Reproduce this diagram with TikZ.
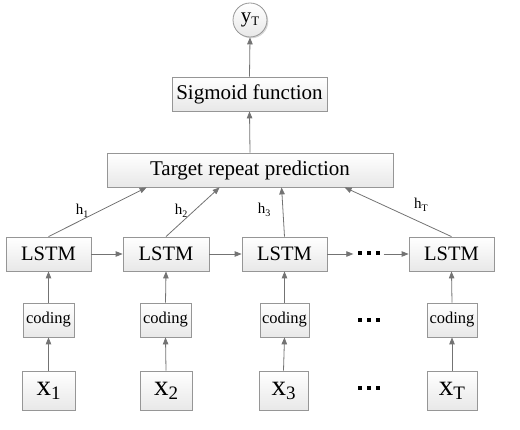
\documentclass[tikz,border=0pt]{standalone}
\usepackage{fontspec}
\setmainfont{Liberation Serif}
\usetikzlibrary{arrows.meta,shadows,calc}
\definecolor{edgegray}{RGB}{150,150,150}
\definecolor{linegray}{RGB}{115,115,115}
\tikzset{
  box/.style={draw=edgegray, line width=0.8pt, top color=white, bottom color=black!9,
    drop shadow={shadow xshift=1.3pt, shadow yshift=-1.3pt, fill=black!35, opacity=0.45},
    inner sep=0pt, minimum height=34pt},
  arr/.style={draw=linegray, line width=0.8pt, -{Triangle[length=7pt,width=5.5pt]}},
  hlab/.style={font=\fontsize{15}{15}\selectfont, inner sep=0pt},
  dotsnode/.style={inner xsep=4pt, inner ysep=2pt},
}
\newcommand{\bigsub}[2]{{\fontsize{29}{29}\selectfont #1}{\fontsize{19}{19}\selectfont\raisebox{-4pt}{#2}}}
\newcommand{\hsub}[2]{#1{\fontsize{10}{10}\selectfont\raisebox{-2.5pt}{#2}}}
\newcommand{\threedots}{\rule{4pt}{4pt}\hspace{5pt}\rule{4pt}{4pt}\hspace{5pt}\rule{4pt}{4pt}}
\begin{document}
\begin{tikzpicture}[x=1pt,y=-1pt]
\useasboundingbox (0,0) rectangle (520,430);
% output
\node[box, circle, minimum size=34pt] (yT) at (250,20) {{\fontsize{21}{21}\selectfont y}{\fontsize{13}{13}\selectfont\raisebox{-3pt}{T}}};
\node[box, minimum width=155pt, font=\fontsize{21}{21}\selectfont] (sig) at (249.5,94) {Sigmoid function};
\node[box, minimum width=286pt, font=\fontsize{21}{21}\selectfont] (tgt) at (250,170) {Target repeat prediction};
% LSTM row
\node[box, minimum width=85pt, font=\fontsize{20.5}{20.5}\selectfont] (L1) at (48.5,254) {LSTM};
\node[box, minimum width=86pt, font=\fontsize{20.5}{20.5}\selectfont] (L2) at (166,254) {LSTM};
\node[box, minimum width=85pt, font=\fontsize{20.5}{20.5}\selectfont] (L3) at (284.5,254) {LSTM};
\node[dotsnode] (d1) at (368.5,253) {\threedots};
\node[box, minimum width=85pt, font=\fontsize{20.5}{20.5}\selectfont] (L4) at (451.5,254) {LSTM};
% coding row
\node[box, minimum width=51pt, font=\fontsize{16.5}{16.5}\selectfont] (C1) at (48.5,320) {coding};
\node[box, minimum width=51pt, font=\fontsize{16.5}{16.5}\selectfont] (C2) at (165.5,320) {coding};
\node[box, minimum width=49pt, font=\fontsize{16.5}{16.5}\selectfont] (C3) at (284.5,320) {coding};
\node[dotsnode] (d2) at (368.5,320) {\threedots};
\node[box, minimum width=50pt, font=\fontsize{16.5}{16.5}\selectfont] (C4) at (452,320) {coding};
% input row
\node[box, minimum width=53pt, minimum height=39pt] (X1) at (48.5,390.5) {\bigsub{x}{1}};
\node[box, minimum width=52pt, minimum height=39pt] (X2) at (166,390.5) {\bigsub{x}{2}};
\node[box, minimum width=49pt, minimum height=39pt] (X3) at (283.5,390.5) {\bigsub{x}{3}};
\node[dotsnode] (d3) at (368.5,388) {\threedots};
\node[box, minimum width=50pt, minimum height=39pt] (X4) at (452,390.5) {\bigsub{x}{T}};
% labels
\node[hlab] (h1) at (82,211) {\hsub{h}{1}};
\node[hlab] (h2) at (181,211) {\hsub{h}{2}};
\node[hlab] (h3) at (264,210) {\hsub{h}{3}};
\node[hlab] (hT) at (421,205) {\hsub{h}{T}};
% connectors
\draw[arr] (sig.north) -- (yT.south);
\draw[arr] (tgt.north) -- (sig.south);
\draw[arr] (L1.north) -- ($(tgt.south west)+(40,0)$);
\draw[arr] (L2.north) -- ($(tgt.south west)+(113,0)$);
\draw[arr] (L3.north) -- ($(tgt.south west)+(175,0)$);
\draw[arr] (L4.north) -- ($(tgt.south west)+(238,0)$);
\draw[arr] (L1.east) -- (L2.west);
\draw[arr] (L2.east) -- (L3.west);
\draw[arr] (L3.east) -- (L3.east -| d1.west);
\draw[arr] (L4.west -| d1.east) -- (L4.west);
\foreach \i in {1,2,3,4} {
  \draw[arr] (C\i.north) -- (L\i.south);
  \draw[arr] (X\i.north) -- (C\i.south);
}
\end{tikzpicture}
\end{document}
